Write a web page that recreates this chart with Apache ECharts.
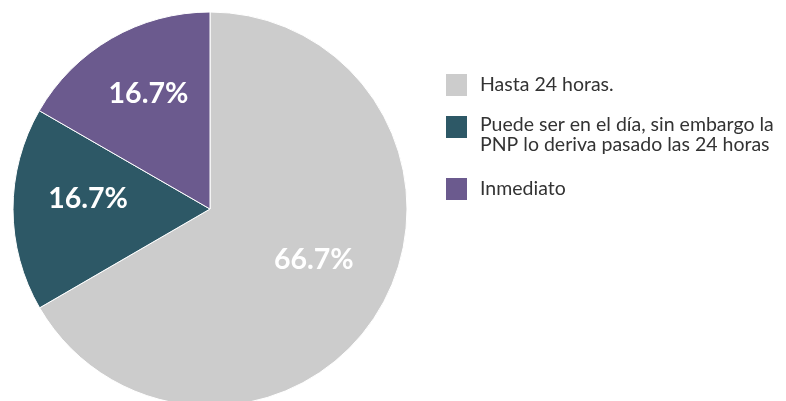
<!DOCTYPE html>
<html>
<head>
<meta charset="utf-8">
<title>ECharts</title>
<script src="https://cdn.jsdelivr.net/npm/echarts@6/dist/echarts.min.js"></script>
</head>
<body style="margin:0">
	<div id="main" style="width: 786px; height: 401px;"></div>
	<script type="text/javascript">
		var categories = ['Hasta 24 horas.', 'Puede ser en el día, sin embargo la\nPNP lo deriva pasado las 24 horas', 'Inmediato'];
		var values = [66.7, 16.7, 16.7];
		var colors = ['#cccccc', '#2d5866', '#6b5a8e'];

		var data = categories.map(function (name, i) {
			return { name: name, value: values[i], itemStyle: { color: colors[i] } };
		});

		// one legend per entry, so each square can sit where it does in the original
		var legendTops = [72, 102, 176];
		var legends = categories.map(function (name, i) {
			return {
				orient: 'vertical',
				left: 444,
				top: legendTops[i],
				padding: 0,
				itemWidth: 23,
				itemHeight: 24,
				icon: 'rect',
				// the two-line entry hangs a bit below its square: push it down with an empty line
				formatter: function (n) {
					if (n.indexOf('\n') < 0) return '{t|' + n + '}';
					return '{s| }\n' + n.split('\n').map(function (l) { return '{t|' + l + '}'; }).join('\n');
				},
				textStyle: {
					padding: [0, 0, 0, 7],
					rich: {
						s: { fontSize: 10, lineHeight: 16 },
						t: { fontFamily: 'Lato', fontSize: 19.5, color: '#333', lineHeight: 20 }
					}
				},
				data: [name]
			};
		});

		var myChart = echarts.init(document.getElementById('main'));
		myChart.setOption({
			animation: false,
			legend: legends,
			series: [
				{
					type: 'pie',
					center: [210, 209],
					radius: 197,
					startAngle: 90,
					clockwise: true,
					itemStyle: { borderColor: '#fff', borderWidth: 1 },
					label: { show: false },
					labelLine: { show: false },
					silent: true,
					data: data
				},
				{
					// transparent copy, only for placing labels further out
					type: 'pie',
					center: [209, 199],
					radius: 236,
					startAngle: 90,
					clockwise: true,
					silent: true,
					legendHoverLink: false,
					itemStyle: { color: 'transparent', opacity: 0 },
					label: {
						show: true,
						position: 'inside',
						formatter: function (p) { return p.value.toFixed(1) + '%'; },
						fontFamily: 'Lato',
						fontWeight: 'bold',
						fontSize: 28.5,
						color: '#fff',
						opacity: 1
					},
					labelLine: { show: false },
					data: values.map(function (v, i) { return { name: 'l' + i, value: v }; })
				}
			]
		});
	</script>
</body>
</html>
